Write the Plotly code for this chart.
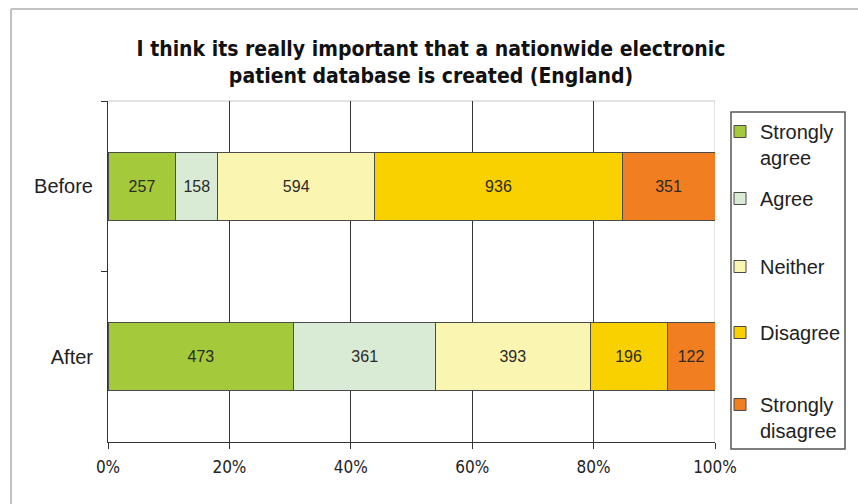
import plotly.graph_objects as go

categories = ["Before", "After"]
series_names = ["Strongly<br>agree", "Agree", "Neither", "Disagree", "Strongly<br>disagree"]
before_vals = [257, 158, 594, 936, 351]
after_vals = [473, 361, 393, 196, 122]
colors = ["#a4c93a", "#d9ebd4", "#faf5b0", "#f9d000", "#f27e22"]
tick_vals = [0, 20, 40, 60, 80, 100]
tick_text = ["0%", "20%", "40%", "60%", "80%", "100%"]

W, H = 858, 504
ml, mr, mt, mb = 108, 143, 101, 62
pw, ph = W - ml - mr, H - mt - mb

NARROW = "DejaVu Sans Condensed, Liberation Sans Narrow, Arial Narrow, Liberation Sans"
SANS = "Liberation Sans, Arial"

# legend slot tops (px) for each series entry
legend_tops = [112, 179, 247, 313, 385]

fig = go.Figure()
legend_layouts = {}
for i, name in enumerate(series_names):
    vals = [before_vals[i], after_vals[i]]
    lname = "legend" if i == 0 else f"legend{i + 1}"
    fig.add_trace(go.Bar(
        y=categories, x=vals, name=name, orientation="h",
        marker=dict(color=colors[i], line=dict(color="#4a4a4a", width=1)),
        text=[str(v) for v in vals], textposition="inside",
        insidetextanchor="middle", constraintext="none",
        textfont=dict(family=SANS, size=16, color="#2a2a2a"),
        legend=lname,
        hoverinfo="skip",
    ))
    legend_layouts[lname] = dict(
        x=720 / W, xanchor="left", xref="container",
        y=1 - legend_tops[i] / H, yanchor="top", yref="container",
        borderwidth=0, bgcolor="rgba(0,0,0,0)",
        font=dict(family=SANS, size=20, color="#222222"),
        valign="top", itemwidth=30,
    )

def px_to_paper_x(px):
    return (px - ml) / pw

def px_to_paper_y(py):
    return 1 - (py - mt) / ph

shapes = [
    # outer frame (left and top)
    dict(type="line", xref="paper", yref="paper",
         x0=px_to_paper_x(11), x1=px_to_paper_x(11), y0=px_to_paper_y(9), y1=px_to_paper_y(H + 5),
         line=dict(color="#c2c2c2", width=2), layer="below"),
    dict(type="line", xref="paper", yref="paper",
         x0=px_to_paper_x(11), x1=px_to_paper_x(W + 5), y0=px_to_paper_y(9), y1=px_to_paper_y(9),
         line=dict(color="#c2c2c2", width=2), layer="below"),
    # plot area top and right border (light)
    dict(type="line", xref="paper", yref="paper", x0=0, x1=1, y0=1, y1=1,
         line=dict(color="#c8c8c8", width=1), layer="between"),
    dict(type="line", xref="x", yref="paper", x0=100, x1=100, y0=0, y1=1,
         line=dict(color="#c8c8c8", width=1), layer="between"),
    # legend box
    dict(type="rect", xref="paper", yref="paper",
         x0=px_to_paper_x(731), x1=px_to_paper_x(845),
         y0=px_to_paper_y(112), y1=px_to_paper_y(449),
         line=dict(color="#555555", width=1.5), fillcolor="rgba(0,0,0,0)", layer="below"),
]

fig.update_layout(
    width=W, height=H,
    margin=dict(l=ml, r=mr, t=mt, b=mb, autoexpand=False),
    paper_bgcolor="white", plot_bgcolor="white",
    barmode="stack", barnorm="percent", bargap=0.6,
    title=dict(
        text="<b>I think its really important that a nationwide electronic<br>patient database is created (England)</b>",
        x=431 / W, xanchor="center", y=1 - 56 / H, yanchor="middle",
        font=dict(family=NARROW, size=21, color="#111111"),
    ),
    font=dict(family=SANS, color="#222222"),
    xaxis=dict(
        range=[0, 100], tickvals=tick_vals, ticktext=tick_text,
        showgrid=True, gridcolor="#333333", gridwidth=1,
        showline=True, linecolor="#333333", linewidth=1,
        ticks="outside", ticklen=6, tickcolor="#333333",
        tickfont=dict(family=NARROW, size=17, color="#222222"),
        ticklabelstandoff=4,
        zeroline=False, fixedrange=True,
    ),
    yaxis=dict(
        categoryorder="array", categoryarray=categories, autorange="reversed",
        tickson="boundaries", ticks="outside", ticklen=6, tickcolor="#333333",
        showline=True, linecolor="#333333", linewidth=1,
        showgrid=False,
        tickfont=dict(family=SANS, size=20, color="#222222"),
        ticklabelstandoff=10, fixedrange=True,
    ),
    shapes=shapes,
    showlegend=True,
    **legend_layouts,
)

fig.write_html("out.html")
